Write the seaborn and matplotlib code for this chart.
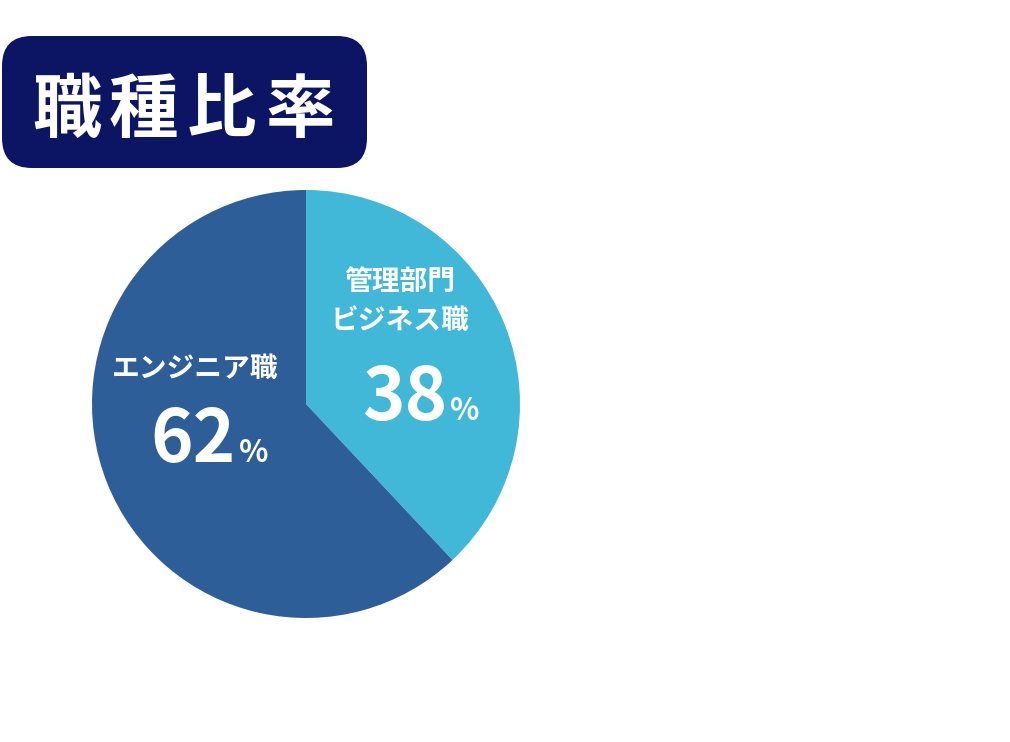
import matplotlib
matplotlib.use("Agg")
import matplotlib.pyplot as plt
import seaborn as sns
from matplotlib.patches import FancyBboxPatch

sns.set_theme(style="white")
plt.rcParams['font.family'] = ['Noto Sans CJK JP', 'DejaVu Sans']

# データ
title = "職種比率"
categories = ["管理部門\nビジネス職", "エンジニア職"]
values = [38, 62]
colors = ["#42B8D8", "#2E5E98"]

W, H = 1010, 742
fig = plt.figure(figsize=(W / 100, H / 100), dpi=100)
ax = fig.add_axes([0, 0, 1, 1])
ax.set_xlim(0, W)
ax.set_ylim(0, H)
ax.set_aspect("equal")
ax.axis("off")

# 円グラフ（上から時計回り）
cx, cy, r = 306, H - 404, 214
ax.pie(values, colors=colors, startangle=90, counterclock=False,
       center=(cx, cy), radius=r, wedgeprops=dict(linewidth=0))
ax.set_xlim(0, W)
ax.set_ylim(0, H)

# タイトルボックス
box = FancyBboxPatch((2 + 30, H - 168 + 30), 365 - 60, 132 - 60,
                     boxstyle="round,pad=30", fc="#0C1464", ec="none")
ax.add_patch(box)
for ch, x in zip(title, [67, 143, 221, 300]):
    ax.text(x, H - 112, ch, color="white", fontsize=50, fontweight="bold",
            ha="center", va="center")

# ラベル
lab_pos = [(400, H - 301), (195, H - 369)]
num_pos = [(447, H - 420), (236, H - 462)]
for cat, v, (lx, ly), (nx, ny) in zip(categories, values, lab_pos, num_pos):
    ax.text(lx, ly, cat, color="white", fontsize=20, fontweight="bold",
            ha="center", va="center", linespacing=1.5)
    ax.text(nx, ny, str(v), color="white", fontsize=52, fontweight="bold",
            ha="right", va="baseline")
    ax.text(nx + 3, ny, "%", color="white", fontsize=22, fontweight="bold",
            ha="left", va="baseline")

fig.savefig("out.png", dpi=100, facecolor="white")
